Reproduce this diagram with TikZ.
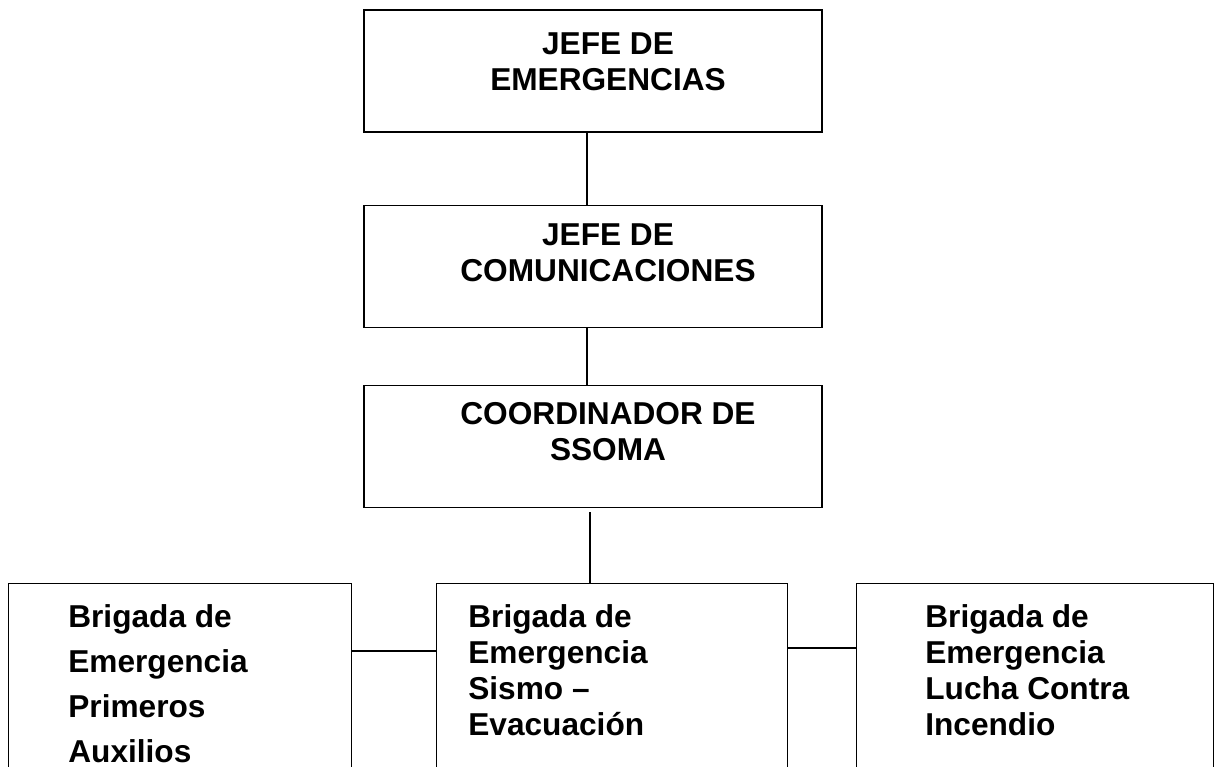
\documentclass[tikz,border=0pt]{standalone}
\usepackage{fontspec}
\setmainfont{Liberation Sans}
\usetikzlibrary{positioning}
\begin{document}
\begin{tikzpicture}
\tikzstyle{box} = [draw,line width=0.7pt,rectangle,inner sep=0pt]
\tikzstyle{head} = [box,minimum width=9.16cm,minimum height=2.44cm]
\tikzstyle{brig} = [box,anchor=north west,minimum height=5cm]
\tikzstyle{txt} = [inner sep=0pt,align=center,font=\fontsize{18}{20.5}\selectfont\bfseries]
\tikzstyle{ltxt} = [txt,align=left]
\clip (0,0) rectangle (24.28,-15.34);
\node[head] (jefe) at (11.86,-1.42) {};
\node[head,below=1.44cm of jefe] (com) {};
\node[head,below=1.14cm of com] (coord) {};
\node[brig,minimum width=6.86cm] (primeros) at (0.16,-11.66) {};
\node[brig,minimum width=7.02cm] (sismo) at (8.72,-11.66) {};
\node[brig,minimum width=7.14cm] (incendio) at (17.12,-11.66) {};
\node[txt,below=0.46cm of jefe.north,xshift=0.3cm] (jefetxt) {JEFE DE\\EMERGENCIAS};
\node[txt,below=0.38cm of com.north,xshift=0.3cm] (comtxt) {JEFE DE\\COMUNICACIONES};
\node[txt,below=0.34cm of coord.north,xshift=0.3cm] (coordtxt) {COORDINADOR DE\\SSOMA};
\node[ltxt,font=\fontsize{18}{25.6}\selectfont\bfseries,below right=0.42cm and 1.2cm of primeros.north west] (primerostxt) {Brigada de\\Emergencia\\Primeros\\Auxilios};
\node[ltxt,below right=0.42cm and 0.64cm of sismo.north west] (sismotxt) {Brigada de\\Emergencia\\Sismo --\\Evacuación};
\node[ltxt,below right=0.42cm and 1.38cm of incendio.north west] (incendiotxt) {Brigada de\\Emergencia\\Lucha Contra\\Incendio};
\draw[line width=0.7pt] ([xshift=-0.12cm]jefe.south) -- ([xshift=-0.12cm]com.north);
\draw[line width=0.7pt] ([xshift=-0.12cm]com.south) -- ([xshift=-0.12cm]coord.north);
\draw[line width=0.7pt] ([xshift=-0.06cm,yshift=-0.08cm]coord.south) -- ([xshift=-0.06cm]coord.south |- sismo.north);
\draw[line width=0.7pt] ([yshift=-1.36cm]primeros.north east) -- ([yshift=-1.36cm]sismo.north west);
\draw[line width=0.7pt] ([yshift=-1.3cm]sismo.north east) -- ([yshift=-1.3cm]incendio.north west);
\end{tikzpicture}
\end{document}
